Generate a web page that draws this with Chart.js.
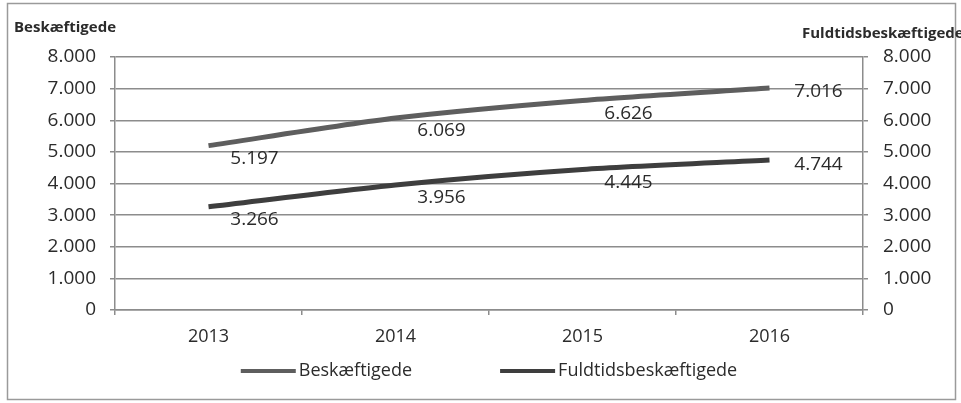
<!DOCTYPE html>
<html>
<head>
<meta charset="utf-8">
<script src="https://cdn.jsdelivr.net/npm/chart.js@4"></script>
<style>
  body { margin: 0; background: #fff; }
</style>
</head>
<body>
<canvas id="chart" width="961" height="403"></canvas>
<script>
const years = ['2013', '2014', '2015', '2016'];
const beskaeftigede = [5197, 6069, 6626, 7016];
const fuldtids = [3266, 3956, 4445, 4744];
const yMax = 8000;
const yStep = 1000;
const leftTitle = 'Beskæftigede';
const rightTitle = 'Fuldtidsbeskæftigede';

function fmt(v) {
  return String(v).replace(/\B(?=(\d{3})+(?!\d))/g, '.');
}

const textColor = '#2b2b2b';
const gridColor = '#8c8c8c';
const font = '"Open Sans"';

// frame, axis titles, data labels and legend
const extras = {
  id: 'extras',
  beforeDraw(chart) {
    const ctx = chart.ctx;
    ctx.save();
    ctx.strokeStyle = '#9a9a9a';
    ctx.lineWidth = 1.5;
    ctx.strokeRect(7.5, 3.5, 948, 396);
    ctx.restore();
  },
  afterDatasetsDraw(chart) {
    const ctx = chart.ctx;
    ctx.save();
    ctx.fillStyle = textColor;
    ctx.font = '19px ' + font;
    ctx.textAlign = 'center';
    ctx.textBaseline = 'middle';
    chart.data.datasets.forEach((ds, di) => {
      const meta = chart.getDatasetMeta(di);
      meta.data.forEach((pt, i) => {
        const last = i === ds.data.length - 1;
        const dx = last ? 49 : 46;
        const dy = last ? (di === 0 ? 3 : 5) : 13;
        ctx.fillText(fmt(ds.data[i]), pt.x + dx, pt.y + dy);
      });
    });

    ctx.font = 'bold 15px ' + font;
    ctx.textAlign = 'left';
    ctx.fillText(leftTitle, 14, 28);
    ctx.fillText(rightTitle, 802, 34);

    // legend
    ctx.font = '18px ' + font;
    const area = chart.chartArea;
    const items = chart.data.datasets.map(ds => ({ text: ds.label, color: ds.borderColor, w: ctx.measureText(ds.label).width }));
    const sample = 55, gap = 3, between = 88;
    let total = items.reduce((s, it) => s + sample + gap + it.w, 0) + between * (items.length - 1);
    let x = (area.left + area.right) / 2 - total / 2;
    const y = 371;
    items.forEach(it => {
      ctx.fillStyle = it.color;
      ctx.fillRect(x, y - 2, sample, 4);
      x += sample + gap;
      ctx.fillStyle = textColor;
      ctx.fillText(it.text, x, y);
      x += it.w + between;
    });
    ctx.restore();
  }
};

new Chart(document.getElementById('chart').getContext('2d'), {
  type: 'line',
  data: {
    labels: years,
    datasets: [{
      label: 'Beskæftigede',
      data: beskaeftigede,
      yAxisID: 'y',
      borderColor: '#5e5e5e',
      backgroundColor: '#5e5e5e',
      borderWidth: 5,
      pointRadius: 0,
      tension: 0.25
    }, {
      label: 'Fuldtidsbeskæftigede',
      data: fuldtids,
      yAxisID: 'y2',
      borderColor: '#3e3e3e',
      backgroundColor: '#3e3e3e',
      borderWidth: 5,
      pointRadius: 0,
      tension: 0.25
    }]
  },
  options: {
    responsive: false,
    animation: false,
    layout: { padding: { top: 57, bottom: 48 } },
    plugins: {
      legend: { display: false },
      tooltip: { enabled: false }
    },
    scales: {
      x: {
        offset: true,
        afterFit(scale) { scale.height = 45; },
        grid: { offset: true, drawOnChartArea: false, drawTicks: true, tickLength: 5, color: gridColor, lineWidth: 1.5 },
        border: { display: true, color: gridColor, width: 1.5 },
        ticks: { color: textColor, font: { family: 'Open Sans', size: 18 }, padding: 11 }
      },
      y: {
        position: 'left',
        min: 0, max: yMax,
        afterFit(scale) { scale.width = 115; },
        grid: { color: gridColor, lineWidth: 1.5, tickLength: 5 },
        border: { display: true, color: gridColor, width: 1.5 },
        ticks: { stepSize: yStep, color: textColor, font: { family: 'Open Sans', size: 19 }, padding: 14, callback: v => fmt(v) }
      },
      y2: {
        position: 'right',
        min: 0, max: yMax,
        afterFit(scale) { scale.width = 98; },
        grid: { drawOnChartArea: false, color: gridColor, lineWidth: 1.5, tickLength: 5 },
        border: { display: true, color: gridColor, width: 1.5 },
        ticks: { stepSize: yStep, color: textColor, font: { family: 'Open Sans', size: 19 }, padding: 15, callback: v => fmt(v) }
      }
    }
  },
  plugins: [extras]
});
</script>
</body>
</html>
